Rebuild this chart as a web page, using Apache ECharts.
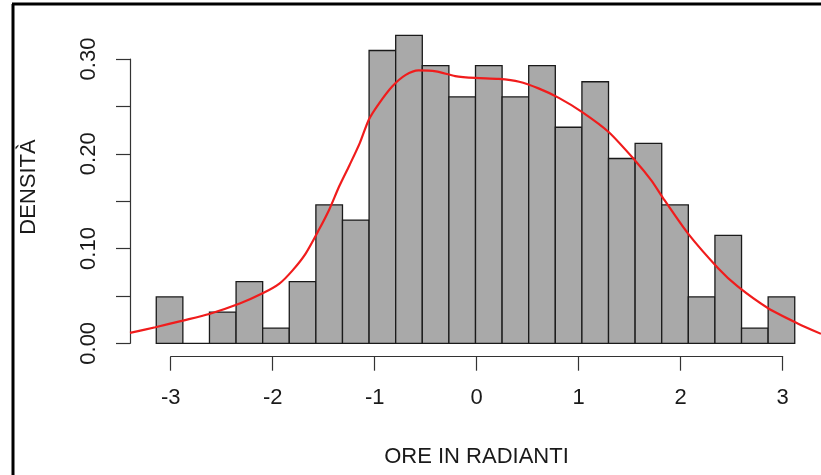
<!DOCTYPE html>
<html>
<head>
<meta charset="utf-8">
<script src="https://cdn.jsdelivr.net/npm/echarts@6/dist/echarts.min.js"></script>
<style>
  html, body { margin: 0; padding: 0; background: #fff; }
  #main { width: 821px; height: 475px; }
</style>
</head>
<body>
<div id="main"></div>
<script>
// histogram bin edges (radians) and bar densities
const breaks = [-3.1416, -2.8798, -2.6180, -2.3562, -2.0944, -1.8326, -1.5708, -1.3090, -1.0472,
  -0.7854, -0.5236, -0.2618, 0, 0.2618, 0.5236, 0.7854, 1.0472, 1.3090, 1.5708, 1.8326, 2.0944,
  2.3562, 2.6180, 2.8798, 3.1416];
const density = [0.049, 0, 0.033, 0.065, 0.016, 0.065, 0.146, 0.130, 0.309, 0.325, 0.293, 0.260,
  0.293, 0.260, 0.293, 0.228, 0.276, 0.195, 0.211, 0.146, 0.049, 0.114, 0.016, 0.049];

// kernel density curve
const curveX = [-3.40, -3.15, -2.88, -2.62, -2.32, -2.09, -1.93, -1.80, -1.67, -1.54, -1.44, -1.34,
  -1.24, -1.14, -1.05, -0.95, -0.82, -0.69, -0.56, -0.39, -0.20, 0.00, 0.23, 0.43, 0.62, 0.82,
  1.05, 1.31, 1.57, 1.73, 1.86, 2.09, 2.39, 2.58, 2.88, 3.17, 3.40];
const curveY = [0.011, 0.017, 0.024, 0.031, 0.042, 0.053, 0.063, 0.077, 0.095, 0.120, 0.141, 0.166,
  0.188, 0.211, 0.236, 0.253, 0.271, 0.283, 0.288, 0.287, 0.282, 0.280, 0.279, 0.276, 0.269, 0.259,
  0.244, 0.223, 0.193, 0.172, 0.151, 0.116, 0.079, 0.060, 0.037, 0.021, 0.010];

const xTitle = 'ORE IN RADIANTI';
const yTitle = 'DENSITÀ';

const font = 'Liberation Sans, Arial, sans-serif';
const txt = '#1a1a1a';

var chart = echarts.init(document.getElementById('main'));

var bars = [];
for (var i = 0; i < density.length; i++) {
  bars.push([breaks[i], breaks[i + 1], density[i]]);
}
var curve = curveX.map(function (x, i) { return [x, curveY[i]]; });

chart.setOption({
  animation: false,
  backgroundColor: '#fff',
  grid: [
    // plotting region
    { left: 130, width: 693.6, top: 21.1, height: 331.7 },
    // y axis display (0 .. 0.30)
    { left: 130, width: 600, top: 59, height: 284.3 },
    // x axis display (-3 .. 3)
    { left: 170.7, width: 612, top: 355.7, height: 1 }
  ],
  xAxis: [
    { gridIndex: 0, type: 'value', min: -3.4, max: 3.4, show: false },
    { gridIndex: 1, type: 'value', min: 0, max: 1, show: false },
    {
      gridIndex: 2, type: 'value', min: -3, max: 3, interval: 1, position: 'bottom',
      axisLine: { show: true, onZero: false, lineStyle: { color: '#333', width: 1.2 } },
      axisTick: { show: true, length: 14, lineStyle: { color: '#333', width: 1.2 } },
      axisLabel: { color: txt, fontFamily: font, fontSize: 22, margin: 30 },
      splitLine: { show: false }
    }
  ],
  yAxis: [
    { gridIndex: 0, type: 'value', min: -0.01, max: 0.34, show: false },
    {
      gridIndex: 1, type: 'value', min: 0, max: 0.3, interval: 0.05, position: 'left',
      axisLine: { show: true, lineStyle: { color: '#333', width: 1.2 } },
      axisTick: { show: true, length: 14, lineStyle: { color: '#333', width: 1.2 } },
      axisLabel: {
        color: txt, fontFamily: font, fontSize: 22, rotate: 90, margin: 30,
        formatter: function (v) {
          return Math.round(v * 100) % 10 === 0 ? v.toFixed(2) : '';
        }
      },
      splitLine: { show: false }
    },
    { gridIndex: 2, type: 'value', show: false }
  ],
  graphic: [
    { type: 'line', shape: { x1: 13, y1: 4, x2: 13, y2: 475 }, style: { stroke: '#000', lineWidth: 3 } },
    { type: 'line', shape: { x1: 12, y1: 4, x2: 821, y2: 4 }, style: { stroke: '#000', lineWidth: 3 } },
    {
      type: 'text', x: 476.5, y: 457,
      style: { text: xTitle, fill: txt, font: '22px ' + font, textAlign: 'center', textVerticalAlign: 'middle' }
    },
    {
      type: 'text', x: 29, y: 187, rotation: Math.PI / 2,
      style: { text: yTitle, fill: txt, font: '22px ' + font, textAlign: 'center', textVerticalAlign: 'middle' }
    }
  ],
  series: [
    {
      type: 'custom',
      xAxisIndex: 0, yAxisIndex: 0,
      data: bars,
      renderItem: function (params, api) {
        var p0 = api.coord([api.value(0), api.value(2)]);
        var p1 = api.coord([api.value(1), 0]);
        return {
          type: 'rect',
          shape: { x: p0[0], y: p0[1], width: p1[0] - p0[0], height: p1[1] - p0[1] },
          style: { fill: '#a9a9a9', stroke: '#1a1a1a', lineWidth: 1.3 }
        };
      }
    },
    {
      type: 'line',
      xAxisIndex: 0, yAxisIndex: 0,
      data: curve,
      symbol: 'none',
      smooth: 0.25,
      clip: true,
      lineStyle: { color: '#f01c1c', width: 2.2 },
      z: 5
    }
  ]
});
</script>
</body>
</html>
